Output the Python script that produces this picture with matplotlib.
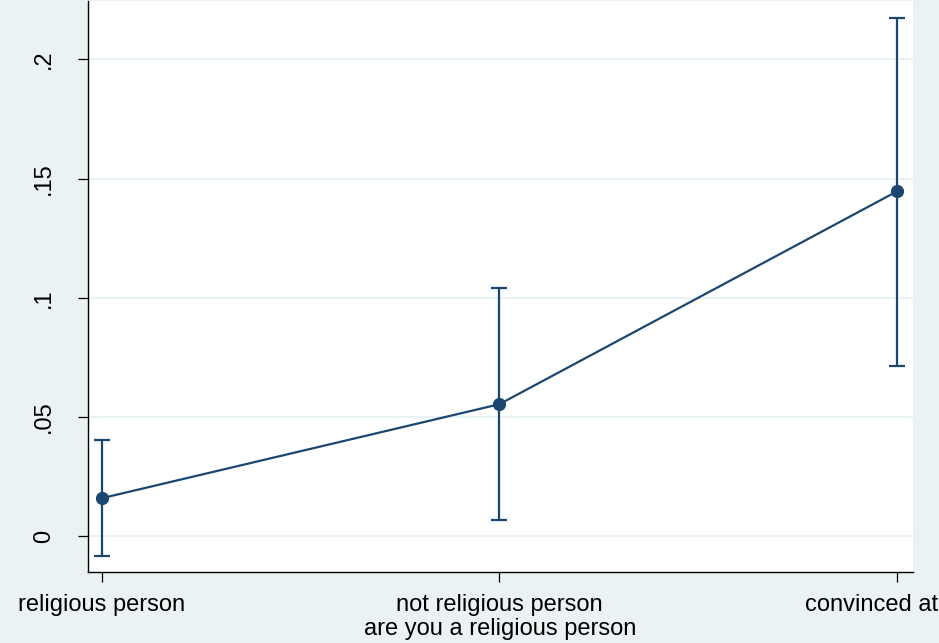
import numpy as np
import matplotlib.pyplot as plt

plt.rcParams['font.family'] = ['Liberation Sans', 'DejaVu Sans']

# predicted values with 95% confidence intervals
groups = ["religious person", "not religious person", "convinced atheist"]
margin = [0.0160, 0.0554, 0.1446]
ci_low = [-0.0082, 0.0070, 0.0713]
ci_high = [0.0403, 0.1043, 0.2172]
yticks = [0, 0.05, 0.1, 0.15, 0.2]
ytick_labels = ["0", ".05", ".1", ".15", ".2"]

navy = '#1a476f'
bg = '#eaf2f3'

x = np.arange(1, len(groups) + 1)
m = np.array(margin)
err = np.array([m - np.array(ci_low), np.array(ci_high) - m])

fig = plt.figure(figsize=(9.39, 6.43), dpi=100, facecolor=bg)
ax = fig.add_axes([0.0937, 0.1104, 0.972 - 0.0937, 0.999 - 0.1104])
ax.set_facecolor('white')

ax.errorbar(x, m, yerr=err, fmt='none', ecolor=navy, elinewidth=1.6,
            capsize=5.5, capthick=1.6, zorder=3)
ax.plot(x, m, color=navy, linewidth=1.6, marker='o', markersize=8.5, zorder=4)

ax.set_xlim(0.965, 3.04)
ax.set_ylim(-0.01495, 0.2246)

ax.set_yticks(yticks)
ax.set_yticklabels(ytick_labels, rotation=90, va='center')
ax.set_xticks(x)
ax.set_xticklabels(groups)
ax.grid(axis='y', color=bg, linewidth=1.6)
ax.set_axisbelow(True)

for side in ['top', 'right']:
    ax.spines[side].set_visible(False)
for side in ['left', 'bottom']:
    ax.spines[side].set_linewidth(1.0)
ax.tick_params(axis='both', length=7, width=0.9, labelsize=17)
ax.tick_params(axis='x', pad=9)
ax.tick_params(axis='y', pad=17)
ax.set_xlabel("are you a religious person", fontsize=17, labelpad=1)

fig.savefig('out.png', dpi=100, facecolor=bg)
